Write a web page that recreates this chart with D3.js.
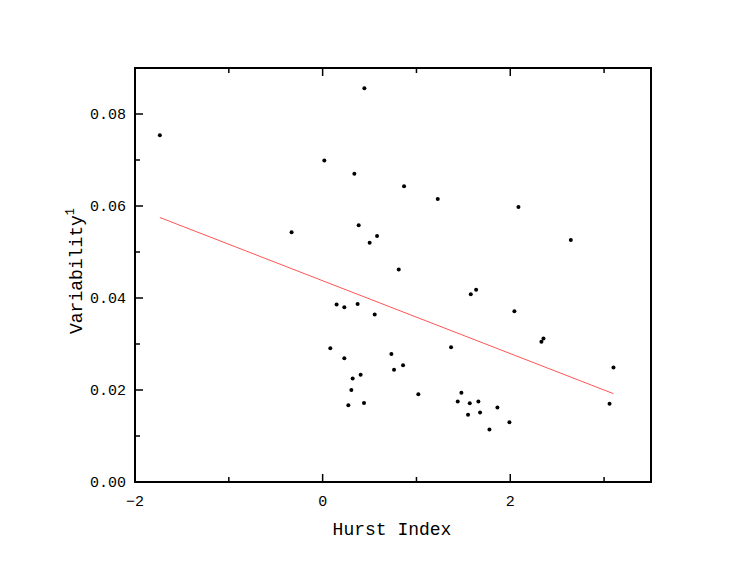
<!DOCTYPE html>
<html>
<head>
<meta charset="utf-8">
<script src="https://cdn.jsdelivr.net/npm/d3@7"></script>
<style>
	body { margin: 0; background: #fff; }
	text { font-family: "Liberation Mono", "DejaVu Sans Mono", monospace; fill: #000; }
</style>
</head>
<body>
<div id="chart"></div>
<script>

// hurst index (x) and variability (y)
var hurst = [-1.735, 0.445, 0.018, 0.338, -0.331, 0.384, 0.501, 0.58, 0.868, 1.227, 2.087, 2.645, 0.811,
	0.149, 0.231, 0.373, 0.555, 0.082, 0.231, 0.405, 0.32, 0.306, 0.274, 0.441, 0.733,
	1.579, 1.636, 2.044, 2.332, 2.354, 1.369, 0.761, 0.857, 1.02, 1.479, 1.44, 1.568, 1.66,
	1.55, 1.678, 1.863, 1.778, 1.991, 3.058, 3.1];
var variability = [0.0754, 0.0856, 0.0699, 0.0670, 0.0543, 0.0558, 0.0520, 0.0535, 0.0643, 0.0615, 0.0598, 0.0526, 0.0462,
	0.0386, 0.0380, 0.0387, 0.0364, 0.0291, 0.0269, 0.0233, 0.0225, 0.0200, 0.0167, 0.0172, 0.0278,
	0.0408, 0.0418, 0.0371, 0.0305, 0.0312, 0.0293, 0.0244, 0.0254, 0.0191, 0.0194, 0.0175, 0.0171, 0.0175,
	0.0146, 0.0151, 0.0162, 0.0114, 0.0130, 0.0170, 0.0249];

// fitted line endpoints
var fitX = [-1.735, 3.1];
var fitY = [0.0575, 0.0192];

var xTicks = [-2, 0, 2];
var yTicks = [0, 0.02, 0.04, 0.06, 0.08];

var width = 756, height = 579;
var margin = { top: 68, right: 105, bottom: 97, left: 135 };

var svg = d3.select("#chart").append("svg")
	.attr("width", width)
	.attr("height", height);

var xScale = d3.scaleLinear()
	.domain([-2, 3.5])
	.range([margin.left, width - margin.right]);

var yScale = d3.scaleLinear()
	.domain([0, 0.09])
	.range([height - margin.bottom, margin.top]);

var data = hurst.map(function(h, i){ return { x: h, y: variability[i] }; });

// fitted line
svg.append("line")
	.attr("x1", xScale(fitX[0])).attr("y1", yScale(fitY[0]))
	.attr("x2", xScale(fitX[1])).attr("y2", yScale(fitY[1]))
	.attr("stroke", "#ff5555")
	.attr("stroke-width", 1);

// points
svg.selectAll("circle.pt")
	.data(data).enter()
	.append("circle")
	.attr("class", "pt")
	.attr("cx", function(d){ return xScale(d.x); })
	.attr("cy", function(d){ return yScale(d.y); })
	.attr("r", 2)
	.attr("fill", "#000");

/*
 *	AXES (ticks point inward)
 */
var x0 = xScale.range()[0], x1 = xScale.range()[1];
var y0 = yScale.range()[0], y1 = yScale.range()[1];

var xMinor = d3.range(-2, 3.51, 1);
var yMinor = d3.range(0, 0.0901, 0.01);

var bottomAxis = svg.append("g").attr("transform", "translate(0," + y0 + ")");
var topAxis = svg.append("g").attr("transform", "translate(0," + y1 + ")");
var leftAxis = svg.append("g").attr("transform", "translate(" + x0 + ",0)");

function isMajorX(v){ return Math.abs(v % 2) < 1e-6; }
function isMajorY(v){ return Math.abs(Math.round(v * 100) % 2) === 0; }

xMinor.forEach(function(v){
	var len = isMajorX(v) ? 8 : 5;
	bottomAxis.append("line").attr("x1", xScale(v)).attr("x2", xScale(v)).attr("y1", 0).attr("y2", -len)
		.attr("stroke", "#000").attr("stroke-width", 1.5);
	topAxis.append("line").attr("x1", xScale(v)).attr("x2", xScale(v)).attr("y1", 0).attr("y2", len)
		.attr("stroke", "#000").attr("stroke-width", 1.5);
});
yMinor.forEach(function(v){
	var len = isMajorY(v) ? 8 : 5;
	leftAxis.append("line").attr("x1", 0).attr("x2", len).attr("y1", yScale(v)).attr("y2", yScale(v))
		.attr("stroke", "#000").attr("stroke-width", 1.5);
});

// frame
svg.append("rect")
	.attr("x", x0).attr("y", y1)
	.attr("width", x1 - x0).attr("height", y0 - y1)
	.attr("fill", "none")
	.attr("stroke", "#000")
	.attr("stroke-width", 2);

// tick labels
bottomAxis.selectAll("text")
	.data(xTicks).enter()
	.append("text")
	.attr("x", function(d){ return xScale(d); })
	.attr("y", 24)
	.attr("text-anchor", "middle")
	.style("font-size", "15px")
	.text(function(d){ return d < 0 ? "\u2212" + Math.abs(d) : d; });

leftAxis.selectAll("text")
	.data(yTicks).enter()
	.append("text")
	.attr("x", -9)
	.attr("y", function(d){ return yScale(d) + 5; })
	.attr("text-anchor", "end")
	.style("font-size", "15px")
	.text(function(d){ return d3.format(".2f")(d); });

// axis titles
svg.append("text")
	.attr("x", 392)
	.attr("y", 535)
	.attr("text-anchor", "middle")
	.style("font-size", "18px")
	.text("Hurst Index");

var yLabel = svg.append("text")
	.attr("transform", "translate(82,271) rotate(-90)")
	.attr("text-anchor", "middle")
	.style("font-size", "18px");
yLabel.append("tspan").text("Variability");
yLabel.append("tspan").attr("dy", -8).style("font-size", "12px").text("1");

</script>
</body>
</html>
